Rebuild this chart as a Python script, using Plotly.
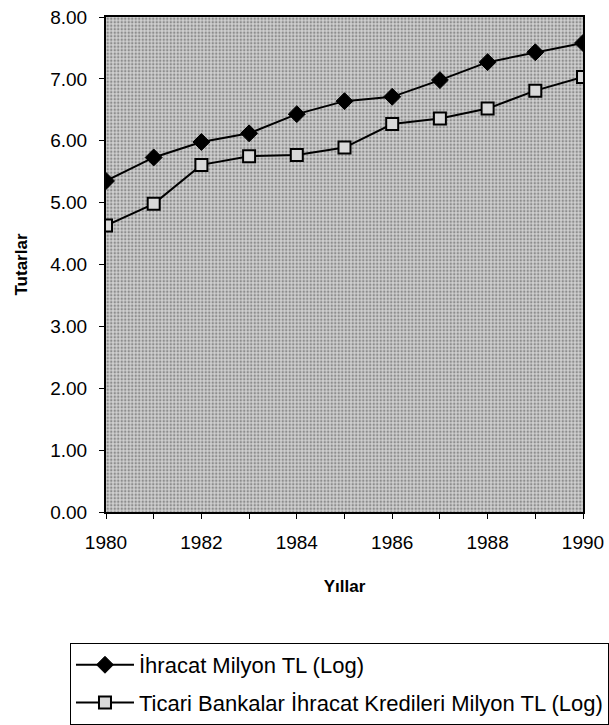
import plotly.graph_objects as go

years = [1980, 1981, 1982, 1983, 1984, 1985, 1986, 1987, 1988, 1989, 1990]
ihracat = [5.35, 5.73, 5.98, 6.12, 6.43, 6.64, 6.71, 6.98, 7.27, 7.43, 7.58]
krediler = [4.63, 4.98, 5.61, 5.75, 5.77, 5.89, 6.27, 6.36, 6.52, 6.81, 7.03]
y_ticks = [0, 1, 2, 3, 4, 5, 6, 7, 8]
x_labels = [str(y) if y % 2 == 0 else "" for y in years]

FONT = "Liberation Sans, Arial, sans-serif"

fig = go.Figure()

# stippled plot-area background
fig.add_trace(go.Scatter(
    x=[years[0], years[-1]], y=[y_ticks[-1], y_ticks[-1]],
    mode="lines", line=dict(width=0), fill="tozeroy",
    fillcolor="#c4c4c4",
    fillpattern=dict(shape=".", fgcolor="#4a4a4a", bgcolor="#d0d0d0", size=3.5, solidity=0.4),
    hoverinfo="skip", showlegend=False,
))

fig.add_trace(go.Scatter(
    x=years, y=ihracat, mode="lines+markers",
    name="İhracat Milyon TL (Log)", legendgroup="a",
    line=dict(color="black", width=2),
    marker=dict(symbol="diamond", size=13, color="black", line=dict(color="black", width=1)),
))
fig.add_trace(go.Scatter(
    x=years, y=krediler, mode="lines+markers",
    name="Ticari Bankalar İhracat Kredileri Milyon TL (Log)", legendgroup="b",
    line=dict(color="black", width=2),
    marker=dict(symbol="square", size=12, color="#d9d9d9", line=dict(color="black", width=2)),
))

fig.update_layout(
    width=609, height=725,
    margin=dict(l=106, r=26, t=17, b=213, autoexpand=False),
    paper_bgcolor="white", plot_bgcolor="#d0d0d0",
    font=dict(family=FONT, size=19, color="black"),
    showlegend=True,
    legend=dict(
        x=-0.0755, y=-0.2646, xanchor="left", yanchor="top",
        bordercolor="black", borderwidth=1, bgcolor="white",
        font=dict(family=FONT, size=22), tracegroupgap=6,
        itemwidth=58,
    ),
)
fig.update_xaxes(
    range=[years[0], years[-1]], tickvals=years, ticktext=x_labels,
    ticks="outside", ticklen=5, tickcolor="black", showgrid=False,
    ticklabelstandoff=7, ticklabeloverflow="allow",
    showline=True, linecolor="black", linewidth=2, mirror=True,
    title=dict(text="<b>Yıllar</b>", font=dict(family=FONT, size=17), standoff=28),
    tickfont=dict(size=19), zeroline=False,
)
fig.update_yaxes(
    range=[y_ticks[0], y_ticks[-1]], tickvals=y_ticks, tickformat=".2f",
    ticks="outside", ticklen=5, tickcolor="black", ticklabelstandoff=8,
    ticklabeloverflow="allow",
    showgrid=True, gridcolor="#505050", gridwidth=1,
    showline=True, linecolor="black", linewidth=2, mirror=True,
    title=dict(text="<b>Tutarlar</b>", font=dict(family=FONT, size=17), standoff=18),
    tickfont=dict(size=19), zeroline=False,
)

fig.write_html("out.html", config={"displayModeBar": False},
               post_script="document.body.style.margin='0';")
